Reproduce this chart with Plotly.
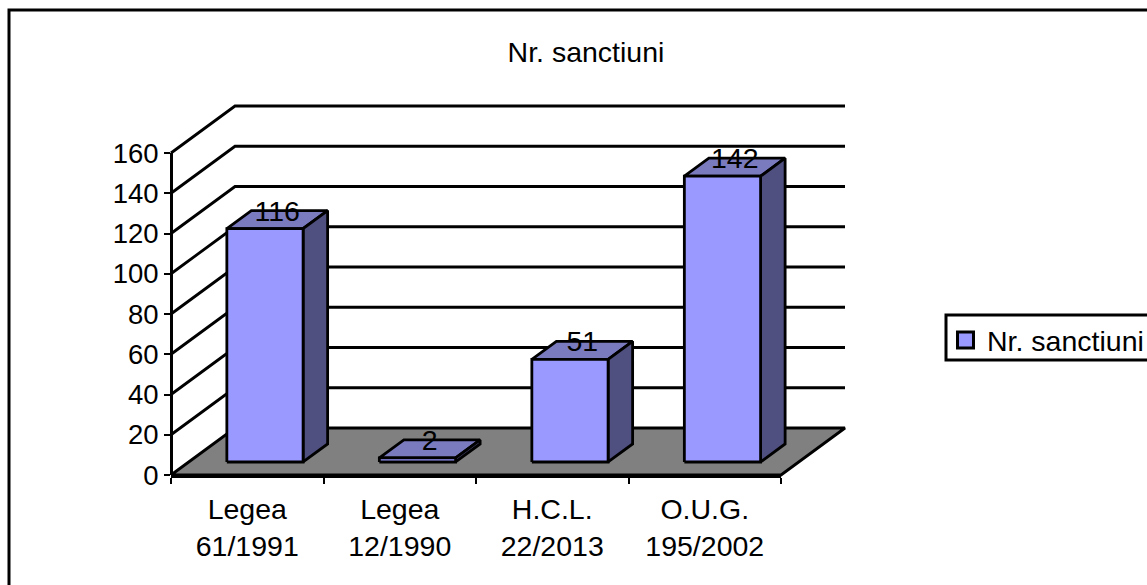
import plotly.graph_objects as go

categories = ["Legea<br>61/1991", "Legea<br>12/1990", "H.C.L.<br>22/2013", "O.U.G.<br>195/2002"]
values = [116, 2, 51, 142]
value_ticks = [0, 20, 40, 60, 80, 100, 120, 140, 160]
series_name = "Nr. sanctiuni"

W, H = 1147, 585
X0, XEND, Y0, YTOP = 171, 781, 475, 153
SLOT = (XEND - X0) / len(categories)
UNIT = (Y0 - YTOP) / value_ticks[-1]
DX = 64 / SLOT        # full floor depth, in slots
DY = 47 / UNIT        # full floor depth, in value units
D0, D1 = 0.277, 0.66  # bar depth span
FONT = dict(family="Liberation Sans, Arial, sans-serif", size=28.5, color="black")
TICK_FONT = dict(FONT, size=27.5)
BLACK = "#000000"
LW = 2.8


def proj(c, v, d):
    return c + DX * d, v + DY * d


def poly(points, fill, width=LW):
    pts = [proj(*p) for p in points]
    pts.append(pts[0])
    return go.Scatter(x=[p[0] for p in pts], y=[p[1] for p in pts], mode="lines",
                      fill="toself", fillcolor=fill, line=dict(color=BLACK, width=width),
                      showlegend=False, hoverinfo="skip", xaxis="x", yaxis="y")


fig = go.Figure()
n = len(categories)

# floor
fig.add_trace(poly([(0, 0, 0), (n, 0, 0), (n, 0, 1), (0, 0, 1)], "#808080"))

# gridlines
for t in value_ticks[1:]:
    pts = [proj(0, t, 0), proj(0, t, 1), proj(n, t, 1)]
    fig.add_trace(go.Scatter(x=[p[0] for p in pts], y=[p[1] for p in pts], mode="lines",
                             line=dict(color=BLACK, width=LW), showlegend=False,
                             hoverinfo="skip", xaxis="x", yaxis="y"))

# bars
lab_x, lab_y = [], []
for i, v in enumerate(values):
    c0, c1 = i + 0.25, i + 0.75
    fig.add_trace(poly([(c0, v, D0), (c1, v, D0), (c1, v, D1), (c0, v, D1)], "#7A7ABF"))
    fig.add_trace(poly([(c1, 0, D0), (c1, 0, D1), (c1, v, D1), (c1, v, D0)], "#4F4F80"))
    fig.add_trace(poly([(c0, 0, D0), (c1, 0, D0), (c1, v, D0), (c0, v, D0)], "#9999FF"))
    lx, ly = proj(i + 0.5, v + 3, (D0 + D1) / 2)
    lab_x.append(lx)
    lab_y.append(ly)

# data labels
fig.add_trace(go.Scatter(x=lab_x, y=lab_y, mode="text", text=[str(v) for v in values],
                         textposition="middle center", textfont=FONT, showlegend=False,
                         hoverinfo="skip", xaxis="x", yaxis="y", cliponaxis=False))

# legend entry and real axes
fig.add_trace(go.Scatter(x=categories, y=[None] * n, mode="markers", name=series_name,
                         marker=dict(symbol="square", size=19, color="#9999FF",
                                     line=dict(color=BLACK, width=3)),
                         xaxis="x2", yaxis="y2"))

frame_x = 9 / W
frame_y = 1 - 10 / H
box_x = 946 / W
box_top = 1 - 315 / H
box_bottom = 1 - 360 / H
fig.update_layout(
    width=W, height=H, autosize=False,
    margin=dict(l=0, r=0, t=0, b=0, pad=0, autoexpand=False),
    paper_bgcolor="white", plot_bgcolor="rgba(0,0,0,0)",
    font=FONT,
    title=dict(text=series_name, x=586 / W, y=1 - 52 / H, xanchor="center", yanchor="middle",
               xref="paper", yref="paper", font=FONT),
    xaxis=dict(domain=[0, 1], range=[-X0 / SLOT, (W - X0) / SLOT], visible=False),
    yaxis=dict(domain=[0, 1], range=[(Y0 - H) / UNIT, Y0 / UNIT], visible=False),
    xaxis2=dict(domain=[X0 / W, XEND / W], type="category", categoryorder="array",
                categoryarray=categories, tickmode="array", tickvals=categories, ticktext=categories,
                range=[-0.5, n - 0.5], tickson="boundaries", ticks="outside", ticklen=6, tickwidth=2,
                tickcolor=BLACK, showline=True, linecolor=BLACK, linewidth=3, showgrid=False,
                tickangle=0, anchor="y2", tickfont=FONT, ticklabelstandoff=7),
    yaxis2=dict(domain=[(H - Y0) / H, (H - YTOP) / H], range=[0, value_ticks[-1]],
                tickmode="array", tickvals=value_ticks, ticks="outside", ticklen=6, tickwidth=2,
                tickcolor=BLACK, showline=True, linecolor=BLACK, linewidth=2.8, showgrid=False,
                zeroline=False, anchor="free", position=X0 / W, tickfont=TICK_FONT),
    legend=dict(x=944 / W, y=1 - 315 / H, xanchor="left", yanchor="top", itemwidth=33,
                borderwidth=0, bgcolor="rgba(0,0,0,0)", font=FONT),
    shapes=[dict(type="path", xref="paper", yref="paper",
                 path=f"M {frame_x} 0 L {frame_x} {frame_y} L 1 {frame_y}",
                 line=dict(color=BLACK, width=3), layer="below"),
            dict(type="path", xref="paper", yref="paper",
                 path=f"M 1 {box_top} L {box_x} {box_top} L {box_x} {box_bottom} L 1 {box_bottom}",
                 line=dict(color=BLACK, width=3), layer="below")],
)

fig.write_html("out.html", config=dict(displayModeBar=False),
               post_script="document.body.style.margin='0';")
